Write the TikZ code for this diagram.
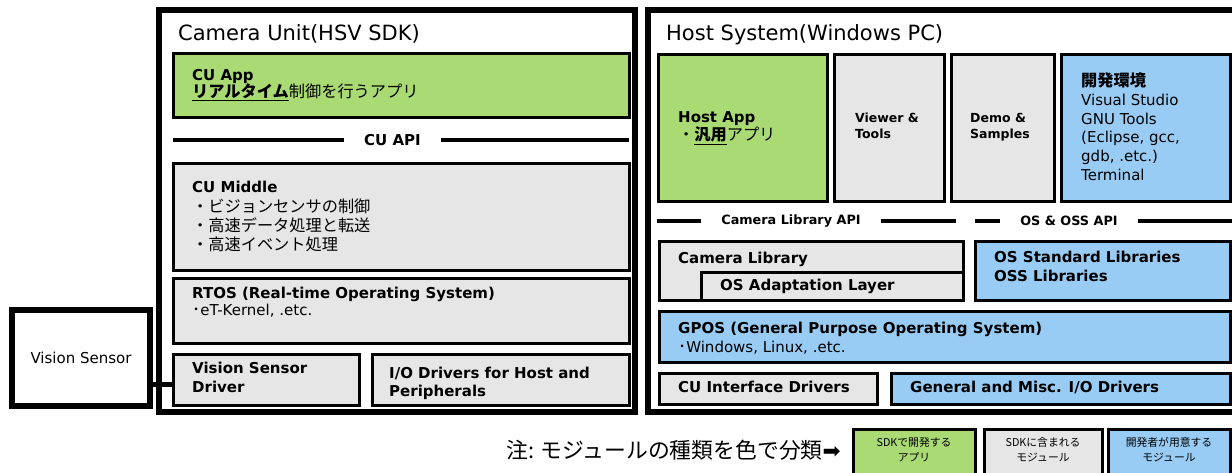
\documentclass[tikz,border=0pt]{standalone}
\usepackage{fontspec}
\setmainfont{DejaVu Sans}
\newfontfamily\jpfont[Scale=1.08]{Noto Sans CJK JP}
\newcommand\jp[1]{{\jpfont #1}}
\newcommand\setfs[2]{\fontsize{#1}{#2}\selectfont}
\newcommand\fst{\rule{0pt}{13pt}}
\definecolor{appgreen}{HTML}{A9DA74}
\definecolor{sdkgray}{HTML}{E6E6E6}
\definecolor{devblue}{HTML}{99CCF4}
\tikzset{
  outerbox/.style={draw, line width=6pt, inner sep=0pt, outer sep=0pt, anchor=north west},
  mod/.style={draw, line width=3pt, inner sep=0pt, outer sep=0pt, anchor=north west},
  appmod/.style={mod, fill=appgreen},
  sdkmod/.style={mod, fill=sdkgray},
  devmod/.style={mod, fill=devblue},
  txt/.style={inner sep=0pt, anchor=north west, align=left, font=\setfs{15}{19}},
  onetxt/.style={inner sep=0pt, anchor=base west, font=\setfs{15}{19}\bfseries},
  ttl/.style={inner sep=0pt, anchor=base west, font=\setfs{21}{25}},
  apilabel/.style={inner ysep=0pt, inner xsep=20pt, font=\setfs{15}{19}\bfseries},
  apiline/.style={line width=4pt},
  conn/.style={line width=5pt},
  lgtxt/.style={inner sep=0pt, align=center, font={\jpfont\setfs{10}{15}}},
}
\newcommand\modbox[6]{\node[#2, minimum width={(#5-#3)*1pt}, minimum height={(#6-#4)*1pt}] (#1) at (#3,#4) {};}
\begin{document}
\begin{tikzpicture}[x=1pt,y=-1pt]
\useasboundingbox (0,0) rectangle (1232,472);
\fill[white] (0,0) rectangle (1232,472);
\clip (0,0) rectangle (1232,472);

% outer frames
\node[outerbox, minimum width=475.5pt, minimum height=402pt] (cu) at (159,10) {};
\node[outerbox, minimum width=600pt, minimum height=402pt] (host) at (647.5,10) {};
\node[outerbox, minimum width=138pt, minimum height=96pt, font=\setfs{15}{19}] (vis) at (12,310) {Vision Sensor};

% camera unit modules
\modbox{cuapp}{appmod}{173}{53}{629}{117}
\modbox{cumid}{sdkmod}{173}{163}{629}{270}
\modbox{rtos}{sdkmod}{173}{278}{629}{343}
\modbox{vsd}{sdkmod}{173}{354}{359}{405}
\modbox{iod}{sdkmod}{372}{354}{629}{405}

% host modules
\modbox{happ}{appmod}{658}{54}{827}{201}
\modbox{viewer}{sdkmod}{834}{54}{944}{201}
\modbox{demo}{sdkmod}{951}{54}{1054}{201}
\modbox{devenv}{devmod}{1061}{54}{1230}{201}
\modbox{camlib}{sdkmod}{659}{241}{963}{300}
\modbox{osal}{sdkmod}{701}{272}{963}{300}
\modbox{osstd}{devmod}{975}{241}{1230}{300}
\modbox{gpos}{devmod}{659}{311}{1230}{362}
\modbox{cuif}{sdkmod}{659}{373}{877}{404}
\modbox{gmio}{devmod}{891}{373}{1230}{404}

% legend boxes
\modbox{lga}{appmod}{853}{429}{975}{476}
\modbox{lgb}{sdkmod}{984}{429}{1102}{476}
\modbox{lgc}{devmod}{1108}{429}{1230}{476}

% titles
\node[ttl] (cutitle) at (178,40.7) {Camera Unit(HSV SDK)};
\node[ttl] (hosttitle) at (666,40.7) {Host System(Windows PC)};

% camera unit texts
\node[txt, font=\setfs{15}{17}] (cuappt) at (192,67.5) {\fst\textbf{CU App}\\\jp{\textbf{\underline{リアルタイム}}制御を行うアプリ}};
\node[txt, font=\setfs{15}{19.3}] (cumidt) at (192,179.5) {\fst\textbf{CU Middle}\\\jp{・ビジョンセンサの制御}\\\jp{・高速データ処理と転送}\\\jp{・高速イベント処理}};
\node[txt, font=\setfs{15}{16.5}] (rtost) at (192,285.5) {\fst\textbf{RTOS (Real-time Operating System)}\\\jp{･}eT-Kernel, .etc.};
\node[txt] (vsdt) at (192,360.5) {\fst\textbf{Vision Sensor}\\\textbf{Driver}};
\node[txt, font=\setfs{15}{18}] (iodt) at (389,365.5) {\fst\textbf{I/O Drivers for Host and}\\\textbf{Peripherals}};

% CU API
\node[apilabel] (cuapi) at (392.5,140) {CU API};
\coordinate (cuapiL) at (173,140);
\coordinate (cuapiR) at (629,140);
\draw[apiline] (cuapiL) -- (cuapi.west);
\draw[apiline] (cuapi.east) -- (cuapiR);

% host texts
\node[txt, font=\setfs{15}{18}] (happt) at (678,109.5) {\fst\textbf{Host App}\\\jp{・\textbf{\underline{汎用}}アプリ}};
\node[txt, font=\setfs{12.5}{16}\bfseries] (viewert) at (855,111.5) {\rule{0pt}{11pt}Viewer \&\\Tools};
\node[txt, font=\setfs{12.5}{16}\bfseries] (demot) at (970,111.5) {\rule{0pt}{11pt}Demo \&\\Samples};
\node[txt, font=\setfs{15}{18.8}] (devenvt) at (1081,72.5) {\fst\jp{\textbf{開発環境}}\\Visual Studio\\GNU Tools\\(Eclipse, gcc,\\gdb, .etc.)\\Terminal};

% host API lines
\node[apilabel, font=\setfs{12.8}{15}\bfseries] (claapi) at (791,221) {Camera Library API};
\node[apilabel, font=\setfs{12.8}{15}\bfseries] (osapi) at (1069,221) {OS \& OSS API};
\coordinate (claL) at (657,221);
\coordinate (claR) at (956,221);
\coordinate (osL) at (975,221);
\coordinate (osR) at (1232,221);
\draw[apiline] (claL) -- (claapi.west);
\draw[apiline] (claapi.east) -- (claR);
\draw[apiline] (osL) -- (osapi.west);
\draw[apiline] (osapi.east) -- (osR);

\node[onetxt] (camlibt) at (678,263.5) {Camera Library};
\node[onetxt] (osalt) at (720,290.5) {OS Adaptation Layer};
\node[txt, font=\setfs{15}{19}\bfseries] (osstdt) at (994,249.5) {\fst OS Standard Libraries\\OSS Libraries};
\node[txt] (gpost) at (678,320.5) {\fst\textbf{GPOS (General Purpose Operating System)}\\\jp{･}Windows, Linux, .etc.};
\node[onetxt] (cuift) at (678,392.5) {CU Interface Drivers};
\node[onetxt] (gmiot) at (910,392.5) {General and Misc. I/O Drivers};

% vision sensor connection
\coordinate (vsdin) at ([yshift=-4.5pt]vsd.west);
\draw[conn] (vis.east |- vsdin) -- (vsdin);

% legend
\node[anchor=base west, inner sep=0pt, font=\setfs{20.2}{25}] (note) at (506,458) {\jp{注: モジュールの種類を色で分類}{\fontsize{21.5}{25}\selectfont ➡}};
\node[lgtxt] (lgat) at (914,450) {SDKで開発する\\アプリ};
\node[lgtxt] (lgbt) at (1043,450) {SDKに含まれる\\モジュール};
\node[lgtxt] (lgct) at (1169,450) {開発者が用意する\\モジュール};
\end{tikzpicture}
\end{document}
